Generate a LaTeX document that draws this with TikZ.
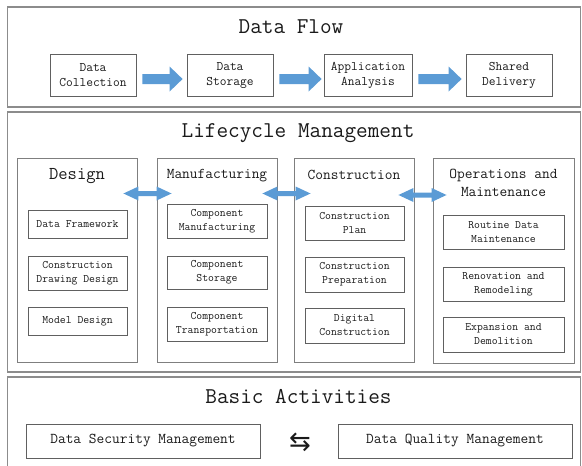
\documentclass[tikz,border=0pt]{standalone}
\usepackage{fontspec}
\newfontfamily\symfont{DejaVu Sans}
\usetikzlibrary{calc}
\definecolor{arrowblue}{HTML}{5B9BD5}
\definecolor{outerline}{HTML}{8C8C8C}
\definecolor{colline}{HTML}{7F7F7F}
\definecolor{boxline}{HTML}{606060}
\definecolor{txt}{HTML}{1A1A1A}
\newcommand\mtt[2]{\ttfamily\fontsize{#1}{#2}\selectfont}
\newcommand\rblockarrow[2]{%
  \fill[arrowblue] ($(#1)+(0,-5)$) -- ($(#2)+(-13,-5)$) -- ($(#2)+(-13,-12.5)$) -- (#2)
    -- ($(#2)+(-13,12.5)$) -- ($(#2)+(-13,5)$) -- ($(#1)+(0,5)$) -- cycle;}
\newcommand\dblockarrow[2]{%
  \fill[arrowblue] (#1) -- ($(#1)+(15,-7)$) -- ($(#1)+(15,-2.5)$) -- ($(#2)+(-15,-2.5)$)
    -- ($(#2)+(-15,-7)$) -- (#2) -- ($(#2)+(-15,7)$) -- ($(#2)+(-15,2.5)$)
    -- ($(#1)+(15,2.5)$) -- ($(#1)+(15,7)$) -- cycle;}
\begin{document}
\begin{tikzpicture}[x=1pt,y=-1pt,
  every node/.style={text=txt, inner sep=0pt, align=center},
  outerbox/.style={draw=outerline, line width=1.5pt, minimum width=573pt},
  colbox/.style={draw=colline, line width=0.9pt, minimum height=204pt},
  flowbox/.style={draw=boxline, line width=0.8pt, minimum height=42pt, font=\mtt{13.1}{15}},
  innerbox/.style={draw=boxline, line width=0.8pt, font=\mtt{11.4}{14}},
  bigtitle/.style={anchor=base, font=\mtt{22.6}{26}},
  coltitle/.style={font=\mtt{15}{18}},
  basebox/.style={draw=boxline, line width=0.8pt, minimum width=234pt, minimum height=34pt, font=\mtt{15}{18}}
]
\useasboundingbox (0,0) rectangle (582,466);
% ---------- Data Flow ----------
\node[outerbox, minimum height=100pt] (dfbox) at (293.75,57) {};
\node[bigtitle] (dftitle) at (291,33.5) {Data Flow};
\node[flowbox, minimum width=86pt] (dc) at (93,75) {Data\\Collection};
\node[flowbox, minimum width=86pt] (ds) at (230,75) {Data\\Storage};
\node[flowbox, minimum width=88pt] (aa) at (368,75) {Application\\Analysis};
\node[flowbox, minimum width=86pt] (sd) at (509,75) {Shared\\Delivery};
\coordinate (f1a) at ($(dc.east)+(6,4)$);
\coordinate (f1b) at ($(ds.west)+(-4,4)$);
\coordinate (f2a) at ($(ds.east)+(6,4)$);
\coordinate (f2b) at ($(aa.west)+(-2,4)$);
\coordinate (f3a) at ($(aa.east)+(6,4)$);
\coordinate (f3b) at ($(sd.west)+(-4,4)$);
\rblockarrow{f1a}{f1b}
\rblockarrow{f2a}{f2b}
\rblockarrow{f3a}{f3b}
% ---------- Lifecycle Management ----------
\node[outerbox, minimum height=260pt] (lcbox) at (293.75,242) {};
\node[bigtitle] (lctitle) at (298,137) {Lifecycle Management};
\node[colbox, minimum width=120pt] (design) at (77,260) {};
\node[colbox, minimum width=120pt] (manuf) at (217,260) {};
\node[colbox, minimum width=120pt] (constr) at (354,260) {};
\node[colbox, minimum width=141pt, minimum height=205pt] (om) at (503.5,260.5) {};
\node[anchor=base, font=\mtt{18.1}{21}] (designt) at (77,179) {Design};
\node[coltitle, anchor=base] (manuft) at (217,178) {Manufacturing};
\node[coltitle, anchor=base] (constrt) at (354,179) {Construction};
\node[coltitle] (omt) at (503.5,183) {Operations and\\Maintenance};
% Design inner
\node[innerbox, minimum width=99pt, minimum height=28pt] (d1) at (77.5,224) {Data Framework};
\node[innerbox, minimum width=99pt, minimum height=34pt] (d2) at (77.5,273) {Construction\\Drawing Design};
\node[innerbox, minimum width=99pt, minimum height=28pt] (d3) at (77.5,321) {Model Design};
% Manufacturing inner
\node[innerbox, minimum width=100pt, minimum height=34pt] (m1) at (217,221) {Component\\Manufacturing};
\node[innerbox, minimum width=100pt, minimum height=33pt] (m2) at (217,272.5) {Component\\Storage};
\node[innerbox, minimum width=100pt, minimum height=34pt] (m3) at (217,324) {Component\\Transportation};
% Construction inner
\node[innerbox, minimum width=99pt, minimum height=34pt] (c1) at (354.5,223) {Construction\\Plan};
\node[innerbox, minimum width=99pt, minimum height=35pt] (c2) at (354.5,274.5) {Construction\\Preparation};
\node[innerbox, minimum width=99pt, minimum height=35pt] (c3) at (354.5,325.5) {Digital\\Construction};
% O&M inner
\node[innerbox, minimum width=121pt, minimum height=34pt] (o1) at (503.5,232) {Routine Data\\Maintenance};
\node[innerbox, minimum width=121pt, minimum height=34pt] (o2) at (503.5,284) {Renovation and\\Remodeling};
\node[innerbox, minimum width=121pt, minimum height=35pt] (o3) at (503.5,334.5) {Expansion and\\Demolition};
% double arrows
\coordinate (l1a) at ($(design.east)+(-14,-66.5)$);
\coordinate (l1b) at ($(manuf.west)+(15,-66.5)$);
\coordinate (l2a) at ($(manuf.east)+(-15,-66.5)$);
\coordinate (l2b) at ($(constr.west)+(17,-66.5)$);
\coordinate (l3a) at ($(constr.east)+(-16,-65)$);
\coordinate (l3b) at ($(om.west)+(14,-65.5)$);
\dblockarrow{l1a}{l1b}
\dblockarrow{l2a}{l2b}
\dblockarrow{l3a}{l3b}
% ---------- Basic Activities ----------
\node[outerbox, minimum height=94pt] (babox) at (293.75,424) {};
\node[bigtitle] (batitle) at (298.5,403) {Basic Activities};
\node[basebox] (sec) at (143,441) {Data Security Management};
\node[basebox] (qual) at (455,441) {Data Quality Management};
\node[font=\symfont\fontsize{26}{28}\selectfont] (swap) at (300,442) {⇆};
\end{tikzpicture}
\end{document}
